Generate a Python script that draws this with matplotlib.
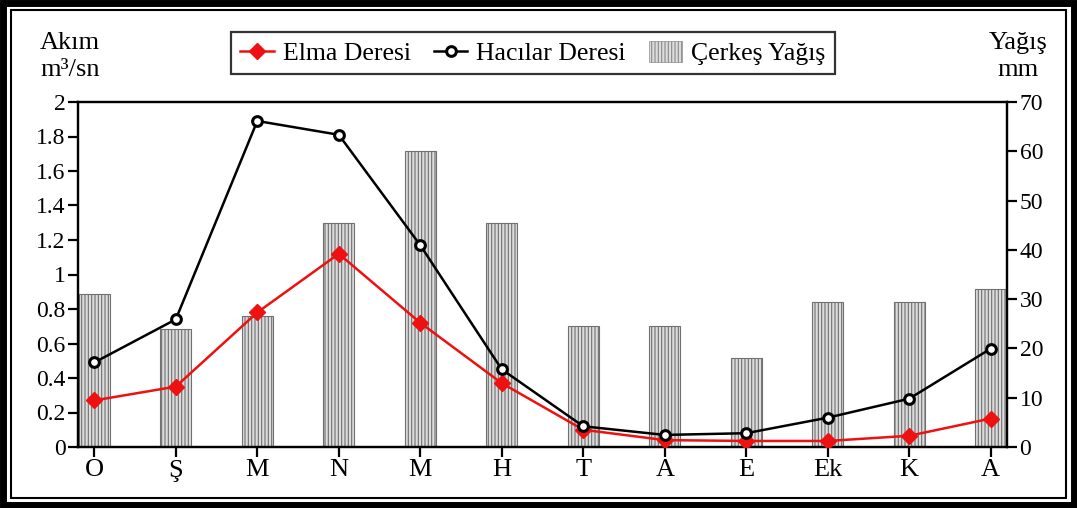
import matplotlib
matplotlib.use("Agg")
import matplotlib.pyplot as plt
from matplotlib.patches import Rectangle
import numpy as np

months = ["O", "Ş", "M", "N", "M", "H", "T", "A", "E", "Ek", "K", "A"]
elma = [0.27, 0.35, 0.78, 1.12, 0.72, 0.37, 0.10, 0.04, 0.035, 0.035, 0.065, 0.165]
hacilar = [0.49, 0.74, 1.89, 1.81, 1.17, 0.45, 0.12, 0.07, 0.08, 0.17, 0.28, 0.57]
yagis = [31, 24, 26.5, 45.5, 60, 45.5, 24.5, 24.5, 18, 29.5, 29.5, 32]

plt.rcParams['font.family'] = ['Liberation Serif', 'DejaVu Serif']
plt.rcParams['hatch.color'] = '#8a8a8a'
plt.rcParams['hatch.linewidth'] = 0.8

fig = plt.figure(figsize=(10.77, 5.08), dpi=100)
ax = fig.add_axes([78/1077, 1-447/508, (1007-78)/1077, (447-102)/508])
ax2 = ax.twinx()

x = np.arange(len(months))
ax2.bar(x, yagis, width=0.38, facecolor='#dcdcdc', edgecolor='#707070',
        hatch='|||||', linewidth=0.8, zorder=1)
ax2.set_ylim(0, 70)
ax2.set_yticks(range(0, 71, 10))

ax.set_zorder(ax2.get_zorder() + 1)
ax.patch.set_visible(False)
l1, = ax.plot(x, elma, color='#ee1111', marker='D', markersize=8, linewidth=1.8,
              markerfacecolor='#ee1111', markeredgecolor='#ee1111', zorder=3)
l2, = ax.plot(x, hacilar, color='black', marker='o', markersize=7, linewidth=1.8,
              markerfacecolor='white', markeredgecolor='black', markeredgewidth=2.2, zorder=4)
ax.set_ylim(0, 2)
ax.set_yticks(np.arange(0, 2.01, 0.2))
ax.set_yticklabels(["0", "0.2", "0.4", "0.6", "0.8", "1", "1.2", "1.4", "1.6", "1.8", "2"])
ax.set_xlim(-0.2, 11.2)
ax.set_xticks(x)
ax.set_xticklabels(months)

for a in (ax, ax2):
    for s in a.spines.values():
        s.set_linewidth(1.6)
    a.tick_params(labelsize=17, width=1.6, length=7, direction='out', pad=2)
ax.tick_params(axis='x', labelsize=19, pad=2)

fig.text(40/1077, 1-43/508, "Akım", fontsize=19, ha='left', va='center')
fig.text(40/1077, 1-70/508, "m³/sn", fontsize=19, ha='left', va='center')
fig.text(1018/1077, 1-43/508, "Yağış", fontsize=19, ha='center', va='center')
fig.text(1018/1077, 1-70/508, "mm", fontsize=19, ha='center', va='center')

bar_handle = Rectangle((0, 0), 1, 1, facecolor='#dcdcdc', edgecolor='#8a8a8a',
                       hatch='|||||', linewidth=0.5)
leg = fig.legend([l1, l2, bar_handle], ["Elma Deresi", "Hacılar Deresi", "Çerkeş Yağış"],
                 loc='center', bbox_to_anchor=(533/1077, 1-53/508), ncol=3,
                 fontsize=18.5, frameon=True, fancybox=False, edgecolor='black',
                 handlelength=1.3, handletextpad=0.35, columnspacing=0.9,
                 borderpad=0.35, handleheight=0.9)
leg.get_frame().set_linewidth(1.6)

# double border
fig.patches.append(Rectangle((3/1077, 3/508), 1-6/1077, 1-6/508, transform=fig.transFigure,
                             fill=False, edgecolor='black', linewidth=5))
fig.patches.append(Rectangle((11/1077, 10/508), 1-22/1077, 1-20/508, transform=fig.transFigure,
                             fill=False, edgecolor='black', linewidth=1.5))

fig.savefig("out.png", dpi=100)
